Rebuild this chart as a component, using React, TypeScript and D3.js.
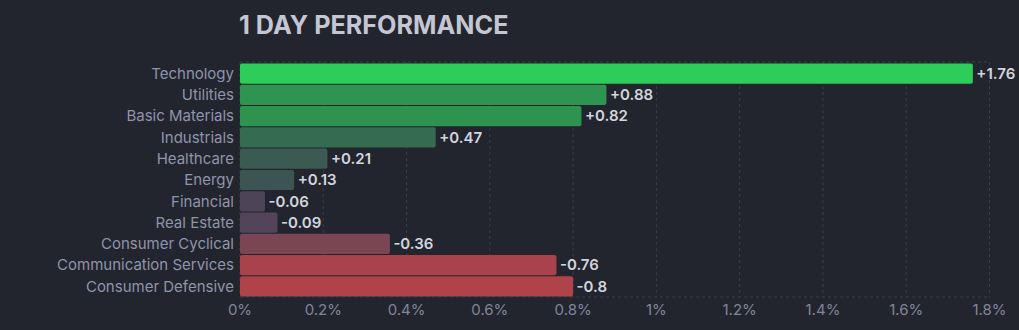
import React from "react";
import * as d3 from "d3";

const categories = [
  "Technology", "Utilities", "Basic Materials", "Industrials", "Healthcare", "Energy",
  "Financial", "Real Estate", "Consumer Cyclical", "Communication Services", "Consumer Defensive",
];
const values = [1.76, 0.88, 0.82, 0.47, 0.21, 0.13, -0.06, -0.09, -0.36, -0.76, -0.8];
const barColors = [
  "#2ecc5a", "#2e9550", "#2f9350", "#356b4f", "#3b5b52", "#3c5552",
  "#4e4458", "#524459", "#7a4653", "#a8434b", "#b0434a",
];
const tickValues = [0, 0.2, 0.4, 0.6, 0.8, 1, 1.2, 1.4, 1.6, 1.8];
const title = "1 DAY PERFORMANCE";

const W = 1019, H = 330;
const left = 240, right = 989.5, top = 62, bottom = 297;
const font = "Inter, 'Noto Sans', sans-serif";

export default function App() {
  const x = d3.scaleLinear().domain([0, 1.8]).range([left, right]);
  const y = d3.scaleBand<string>().domain(categories).range([top + 1, bottom]).paddingInner(0.05).paddingOuter(0.02);
  return (
    <svg width={W} height={H} style={{ position: "absolute", left: 0, top: 0, background: "#22252e" }}>
      <rect x={0} y={0} width={W} height={H} fill="#22252e" />
      <text x={239} y={34} fill="#c4c7d3" fontFamily={font} fontWeight={700} fontSize={25.2}>{title}</text>
      {tickValues.map((t) => (
        <line key={t} x1={x(t)} x2={x(t)} y1={top} y2={bottom} stroke="#3a3e4a" strokeDasharray="3,3" />
      ))}
      <line x1={left} x2={right} y1={top} y2={top} stroke="#3a3e4a" strokeDasharray="3,3" />
      <line x1={left} x2={right} y1={bottom} y2={bottom} stroke="#3a3e4a" strokeDasharray="3,3" />
      {categories.map((c, i) => {
        const v = Math.abs(values[i]);
        const yy = y(c)!;
        const h = y.bandwidth();
        return (
          <g key={c}>
            <rect x={x(0)} y={yy} width={x(v) - x(0)} height={h} rx={2} fill={barColors[i]} />
            <text x={234} y={yy + h / 2} dy="0.35em" textAnchor="end" fill="#8f94ab" fontFamily={font} fontSize={15}>{c}</text>
            <text x={x(v) + 3.5} y={yy + h / 2} dy="0.35em" fill="#d2d5de" fontFamily={font} fontWeight={600} fontSize={15}>
              {(values[i] > 0 ? "+" : "") + values[i]}
            </text>
          </g>
        );
      })}
      {tickValues.map((t) => (
        <text key={"l" + t} x={x(t)} y={310} dy="0.35em" textAnchor="middle" fill="#80859b" fontFamily={font} fontSize={15}>
          {d3.format("~g")(t) + "%"}
        </text>
      ))}
    </svg>
  );
}
